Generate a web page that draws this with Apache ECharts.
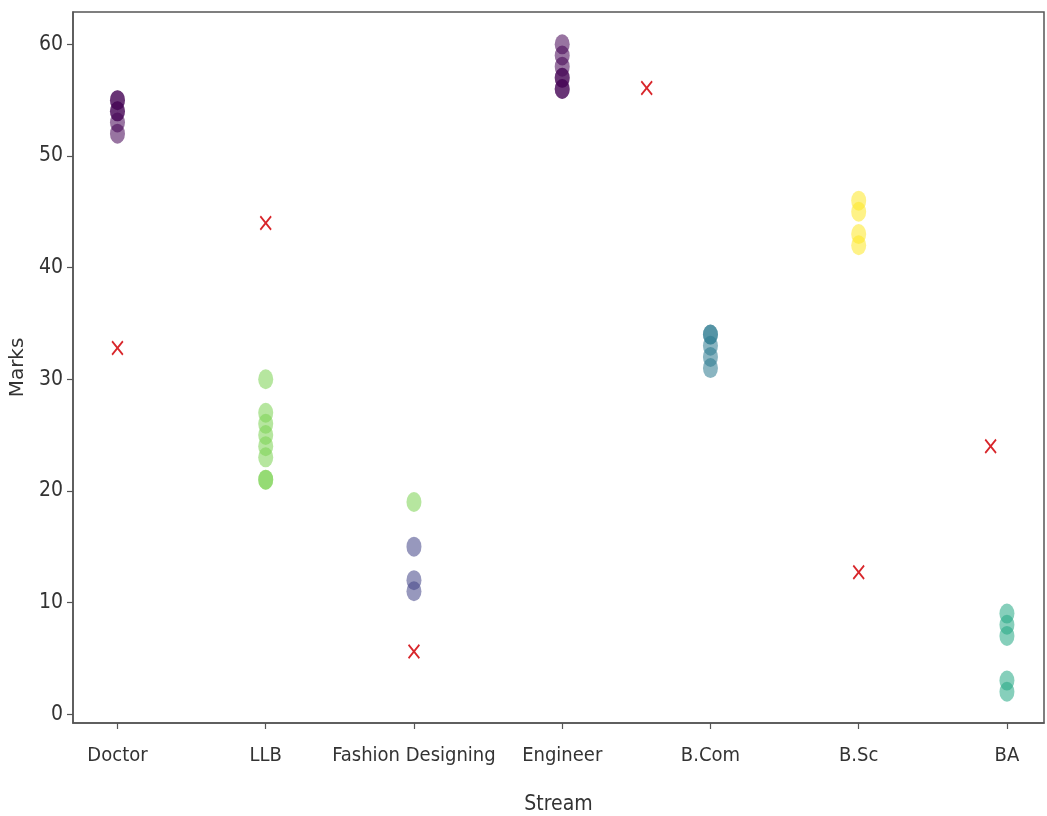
<!DOCTYPE html>
<html>
<head>
<meta charset="utf-8">
<script src="https://cdn.jsdelivr.net/npm/echarts@6/dist/echarts.min.js"></script>
<style>
  html, body { margin: 0; padding: 0; background: #fff; }
  #chart { width: 1047px; height: 816px; }
</style>
</head>
<body>
<div id="chart"></div>
<script>
// ---- data ----
const categories = ['Doctor', 'LLB', 'Fashion Designing', 'Engineer', 'B.Com', 'B.Sc', 'BA'];
const yTicks = [0, 10, 20, 30, 40, 50, 60];

const doctorMarks = [55, 55, 54, 54, 53, 52];
const llbMarks = [30, 27, 26, 25, 24, 23, 21, 21];
const fashionGreenMarks = [19];
const fashionBlueMarks = [15, 12, 11];
const engineerMarks = [60, 59, 58, 57, 57, 56, 56];
const bcomMarks = [34, 34, 33, 32, 31];
const bscMarks = [46, 45, 43, 42];
const baMarks = [9, 8, 7, 3, 2];

const centroidX = [0, 1, 2, 3.57, 5, 5.89];
const centroidY = [32.8, 44.0, 5.6, 56.1, 12.7, 24.0];

// groups: [category index, values, colour]
const groups = [
  [0, doctorMarks, '#440154'],
  [1, llbMarks, '#7ad151'],
  [2, fashionGreenMarks, '#7ad151'],
  [2, fashionBlueMarks, '#414487'],
  [3, engineerMarks, '#440154'],
  [4, bcomMarks, '#2a788e'],
  [5, bscMarks, '#fde725'],
  [6, baMarks, '#22a884']
];

const tickFont = "'DejaVu Sans Condensed', 'Liberation Sans Narrow', 'DejaVu Sans', sans-serif";
const xPath = 'path://M0,1 L1,0 L5,4 L9,0 L10,1 L6,5 L10,9 L9,10 L5,6 L1,10 L0,9 L4,5 Z';

const series = groups.map(g => ({
  type: 'scatter',
  symbol: 'circle',
  symbolSize: [15, 20],
  itemStyle: { color: g[2], opacity: 0.55 },
  data: g[1].map(v => [g[0], v]),
  silent: true
}));

series.push({
  type: 'scatter',
  symbol: xPath,
  symbolSize: [12, 15],
  itemStyle: { color: '#d8262b', opacity: 1 },
  data: centroidX.map((x, i) => [x, centroidY[i]]),
  silent: true,
  z: 5
});

const chart = echarts.init(document.getElementById('chart'));
chart.setOption({
  animation: false,
  backgroundColor: '#ffffff',
  grid: {
    left: 73, right: 3, top: 12, bottom: 93,
    containLabel: false,
    outerBoundsMode: 'none',
    show: true, borderColor: '#555', borderWidth: 1.5, backgroundColor: 'transparent'
  },
  xAxis: {
    type: 'value',
    min: -0.3, max: 6.25,
    name: 'Stream',
    nameLocation: 'middle',
    nameGap: 71,
    nameTextStyle: { fontFamily: tickFont, fontSize: 21, color: '#333' },
    splitLine: { show: false },
    axisLine: { show: true, onZero: false, lineStyle: { color: '#555', width: 1.5 } },
    axisTick: { show: true, customValues: categories.map((c, i) => i), length: 6, lineStyle: { color: '#555', width: 1.2 } },
    axisLabel: {
      customValues: categories.map((c, i) => i),
      formatter: v => categories[Math.round(v)] || '',
      fontFamily: tickFont, fontSize: 20, color: '#333', margin: 23
    }
  },
  yAxis: {
    type: 'value',
    min: -0.8, max: 62.9,
    name: 'Marks',
    nameLocation: 'middle',
    nameGap: 45,
    nameTextStyle: { fontFamily: "'DejaVu Sans', sans-serif", fontSize: 20, color: '#333' },
    splitLine: { show: false },
    axisLine: { show: true, onZero: false, lineStyle: { color: '#555', width: 1.5 } },
    axisTick: { show: true, customValues: yTicks, length: 6, lineStyle: { color: '#555', width: 1.2 } },
    axisLabel: {
      customValues: yTicks,
      fontFamily: tickFont, fontSize: 21, color: '#333', margin: 10
    }
  },
  series: series
});
</script>
</body>
</html>
